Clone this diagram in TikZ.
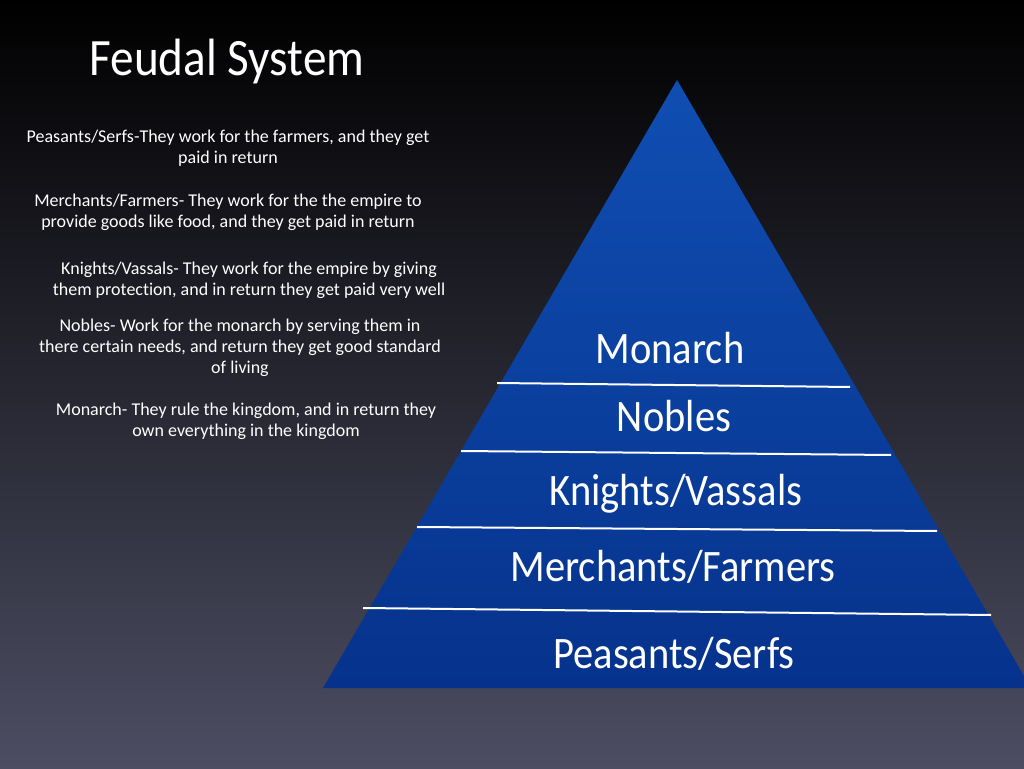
\documentclass[tikz,border=0pt]{standalone}
\usepackage{fontspec}
\setmainfont{Carlito}[FakeStretch=0.9]
\newfontfamily\bodyfont{Carlito}[Ligatures=NoCommon]
\definecolor{bgbot}{RGB}{76,77,98}
\definecolor{bgmid}{RGB}{24,25,38}
\definecolor{pyrtop}{RGB}{16,78,178}
\definecolor{pyrbot}{RGB}{6,50,140}
\tikzset{
  desc/.style={text=white, align=center, inner sep=0pt, font=\bodyfont\fontsize{18}{21}\selectfont},
  tier/.style={text=white, inner sep=0pt, anchor=base, font=\fontsize{45}{50}\selectfont},
  divider/.style={white, line width=2pt}
}
\begin{document}
\begin{tikzpicture}[x=1pt,y=1pt]
\useasboundingbox (0,0) rectangle (1024,768);
\shade[top color=black, middle color=bgmid, bottom color=bgbot] (0,0) rectangle (1024,768);
% pyramid
\coordinate (apex) at (677,688);
\coordinate (bl) at (323,80);
\coordinate (br) at (1031,80);
\shade[top color=pyrtop, bottom color=pyrbot] (apex) -- (bl) -- (br) -- cycle;
% dividers
\coordinate (l1a) at (497,385); \coordinate (l1b) at (850,381);
\coordinate (l2a) at (461,317); \coordinate (l2b) at (891,313);
\coordinate (l3a) at (417,241); \coordinate (l3b) at (937,237);
\coordinate (l4a) at (363,160); \coordinate (l4b) at (991,153);
\draw[divider] (l1a) -- (l1b);
\draw[divider] (l2a) -- (l2b);
\draw[divider] (l3a) -- (l3b);
\draw[divider] (l4a) -- (l4b);
% tier labels
\node[tier] (monarch) at (670,404) {Monarch};
\node[tier] (nobles) at (674,336) {Nobles};
\node[tier] (knights) at (676,262) {Knights/Vassals};
\node[tier] (merchants) at (673,186) {Merchants/Farmers};
\node[tier] (peasants) at (674,100) {Peasants/Serfs};
% title
\node[text=white, anchor=base, inner sep=0pt, font=\fontsize{52.5}{58}\selectfont] (title) at (227,692) {Feudal System};
% descriptions
\node[desc] (d1) at (228,620) {Peasants/Serfs-They work for the farmers, and they get\\paid in return};
\node[desc] (d2) at (228,556) {Merchants/Farmers- They work for the the empire to\\provide goods like food, and they get paid in return};
\node[desc] (d3) at (249,487.5) {Knights/Vassals- They work for the empire by giving\\them protection, and in return they get paid very well};
\node[desc] (d4) at (240,420.5) {Nobles- Work for the monarch by serving them in\\there certain needs, and return they get good standard\\of living};
\node[desc] (d5) at (246,347) {Monarch- They rule the kingdom, and in return they\\own everything in the kingdom};
\end{tikzpicture}
\end{document}
